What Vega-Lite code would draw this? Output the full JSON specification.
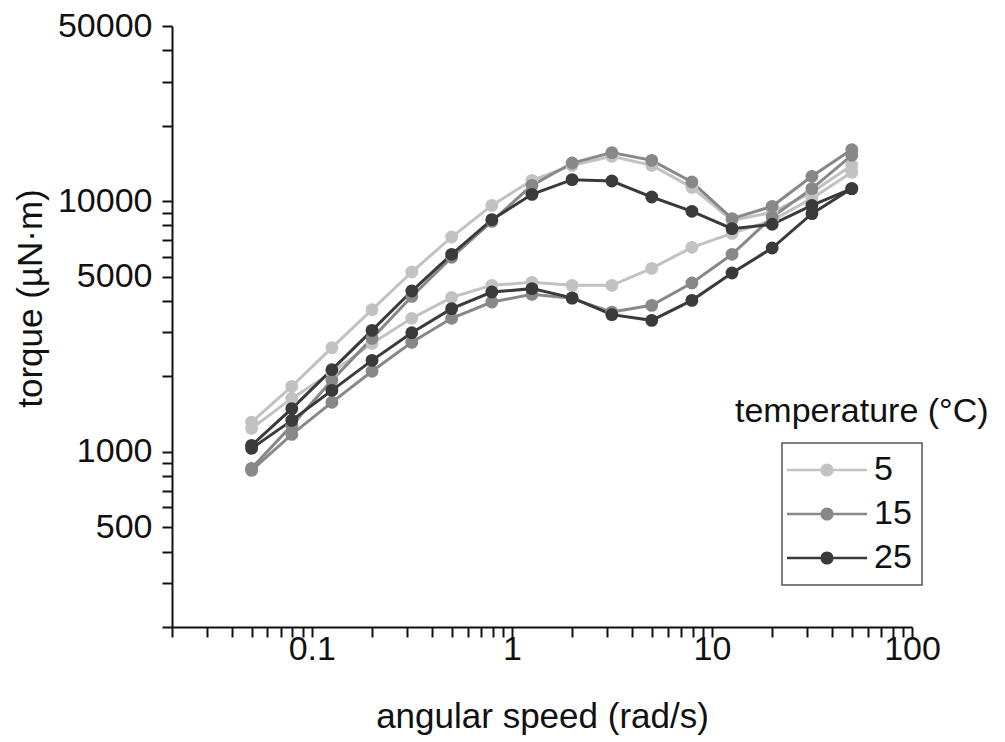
{
"$schema": "https://vega.github.io/schema/vega-lite/v6.json",
"width": 740, "height": 601,
"autosize": {"type": "none"},
"padding": {"left": 172, "top": 26, "right": 93, "bottom": 115},
"background": "white",
"config": {"view": {"stroke": null}, "font": "Liberation Sans"},
"title": {"text": "temperature (°C)", "orient": "top", "anchor": "start", "frame": "group", "dx": 563, "dy": 447, "baseline": "alphabetic", "offset": 0, "fontSize": 34, "fontWeight": "normal", "font": "Liberation Sans", "color": "#111111"},
"data": {"values": [
{"w":0.05,"T":5,"b":"a","v":1314},{"w":0.0794,"T":5,"b":"a","v":1825},{"w":0.126,"T":5,"b":"a","v":2604},{"w":0.2,"T":5,"b":"a","v":3692},{"w":0.316,"T":5,"b":"a","v":5217},{"w":0.5,"T":5,"b":"a","v":7193},{"w":0.794,"T":5,"b":"a","v":9624},{"w":1.26,"T":5,"b":"a","v":12111},{"w":2,"T":5,"b":"a","v":13900},{"w":3.16,"T":5,"b":"a","v":15099},{"w":5,"T":5,"b":"a","v":13900},{"w":7.94,"T":5,"b":"a","v":11356},{"w":12.6,"T":5,"b":"a","v":8386},{"w":20,"T":5,"b":"a","v":9028},{"w":31.6,"T":5,"b":"a","v":10847},{"w":50,"T":5,"b":"a","v":13900},
{"w":0.05,"T":5,"b":"b","v":1240},{"w":0.0794,"T":5,"b":"b","v":1634},{"w":0.126,"T":5,"b":"b","v":2075},{"w":0.2,"T":5,"b":"b","v":2709},{"w":0.316,"T":5,"b":"b","v":3409},{"w":0.5,"T":5,"b":"b","v":4134},{"w":0.794,"T":5,"b":"b","v":4615},{"w":1.26,"T":5,"b":"b","v":4745},{"w":2,"T":5,"b":"b","v":4615},{"w":3.16,"T":5,"b":"b","v":4615},{"w":5,"T":5,"b":"b","v":5395},{"w":7.94,"T":5,"b":"b","v":6545},{"w":12.6,"T":5,"b":"b","v":7442},{"w":20,"T":5,"b":"b","v":8386},{"w":31.6,"T":5,"b":"b","v":10264},{"w":50,"T":5,"b":"b","v":13032},
{"w":0.05,"T":15,"b":"a","v":859},{"w":0.0794,"T":15,"b":"a","v":1275},{"w":0.126,"T":15,"b":"a","v":1928},{"w":0.2,"T":15,"b":"a","v":2835},{"w":0.316,"T":15,"b":"a","v":4168},{"w":0.5,"T":15,"b":"a","v":5970},{"w":0.794,"T":15,"b":"a","v":8310},{"w":1.26,"T":15,"b":"a","v":11568},{"w":2,"T":15,"b":"a","v":14196},{"w":3.16,"T":15,"b":"a","v":15623},{"w":5,"T":15,"b":"a","v":14553},{"w":7.94,"T":15,"b":"a","v":11924},{"w":12.6,"T":15,"b":"a","v":8519},{"w":20,"T":15,"b":"a","v":9539},{"w":31.6,"T":15,"b":"a","v":12566},{"w":50,"T":15,"b":"a","v":16061},
{"w":0.05,"T":15,"b":"b","v":843},{"w":0.0794,"T":15,"b":"b","v":1173},{"w":0.126,"T":15,"b":"b","v":1576},{"w":0.2,"T":15,"b":"b","v":2095},{"w":0.316,"T":15,"b":"b","v":2734},{"w":0.5,"T":15,"b":"b","v":3409},{"w":0.794,"T":15,"b":"b","v":3959},{"w":1.26,"T":15,"b":"b","v":4249},{"w":2,"T":15,"b":"b","v":4095},{"w":3.16,"T":15,"b":"b","v":3611},{"w":5,"T":15,"b":"b","v":3841},{"w":7.94,"T":15,"b":"b","v":4714},{"w":12.6,"T":15,"b":"b","v":6137},{"w":20,"T":15,"b":"b","v":8647},{"w":31.6,"T":15,"b":"b","v":11226},{"w":50,"T":15,"b":"b","v":15240},
{"w":0.05,"T":25,"b":"a","v":1061},{"w":0.0794,"T":25,"b":"a","v":1487},{"w":0.126,"T":25,"b":"a","v":2127},{"w":0.2,"T":25,"b":"a","v":3052},{"w":0.316,"T":25,"b":"a","v":4380},{"w":0.5,"T":25,"b":"a","v":6137},{"w":0.794,"T":25,"b":"a","v":8441},{"w":1.26,"T":25,"b":"a","v":10648},{"w":2,"T":25,"b":"a","v":12188},{"w":3.16,"T":25,"b":"a","v":12034},{"w":5,"T":25,"b":"a","v":10389},{"w":7.94,"T":25,"b":"a","v":9111},{"w":12.6,"T":25,"b":"a","v":7771},{"w":20,"T":25,"b":"a","v":8087},{"w":31.6,"T":25,"b":"a","v":9624},{"w":50,"T":25,"b":"a","v":11226},
{"w":0.05,"T":25,"b":"b","v":1032},{"w":0.0794,"T":25,"b":"b","v":1335},{"w":0.126,"T":25,"b":"b","v":1758},{"w":0.2,"T":25,"b":"b","v":2317},{"w":0.316,"T":25,"b":"b","v":2988},{"w":0.5,"T":25,"b":"b","v":3726},{"w":0.794,"T":25,"b":"b","v":4340},{"w":1.26,"T":25,"b":"b","v":4478},{"w":2,"T":25,"b":"b","v":4115},{"w":3.16,"T":25,"b":"b","v":3527},{"w":5,"T":25,"b":"b","v":3346},{"w":7.94,"T":25,"b":"b","v":4021},{"w":12.6,"T":25,"b":"b","v":5168},{"w":20,"T":25,"b":"b","v":6503},{"w":31.6,"T":25,"b":"b","v":8918},{"w":50,"T":25,"b":"b","v":11226}
]},
"encoding": {
  "x": {"field": "w", "type": "quantitative",
    "scale": {"type": "log", "domain": [0.02, 100], "nice": false, "zero": false},
    "axis": {"title": "angular speed (rad/s)", "grid": false,
      "values": [0.02,0.03,0.04,0.05,0.06,0.07,0.08,0.09,0.1,0.2,0.3,0.4,0.5,0.6,0.7,0.8,0.9,1,2,3,4,5,6,7,8,9,10,20,30,40,50,60,70,80,90,100],
      "format": "~g",
      "labelExpr": "indexof([0.1,1,10,100], datum.value) >= 0 ? datum.label : ''",
      "labelOverlap": false, "labelFlush": false, "labelFontSize": 34, "labelColor": "#111111", "labelPadding": -5,
      "tickSize": 10, "tickWidth": 2, "tickColor": "#111111", "domainColor": "#111111", "domainWidth": 2,
      "titleFontSize": 35, "titleFontWeight": "normal", "titleColor": "#111111", "titleY": 72,
      "encode": {"ticks": {"update": {"y2": {"signal": "indexof([0.1,1,10,100], datum.value) >= 0 ? 10 : 6"}}}}
    }},
  "y": {"field": "v", "type": "quantitative",
    "scale": {"type": "log", "domain": [200, 50000], "nice": false, "zero": false},
    "axis": {"title": "torque (µN·m)", "grid": false,
      "values": [200,300,400,500,600,700,800,900,1000,2000,3000,4000,5000,6000,7000,8000,9000,10000,20000,30000,40000,50000],
      "format": "~g",
      "labelExpr": "indexof([500,1000,5000,10000,50000], datum.value) >= 0 ? datum.label : ''",
      "labelOverlap": false, "labelFlush": false, "labelFontSize": 34, "labelColor": "#111111", "labelPadding": 10,
      "tickSize": 10, "tickWidth": 2, "tickColor": "#111111", "domainColor": "#111111", "domainWidth": 2,
      "titleFontSize": 35, "titleFontWeight": "normal", "titleColor": "#111111", "titleX": -124, "titleY": 272,
      "encode": {"ticks": {"update": {"x2": {"signal": "indexof([1000,10000,50000], datum.value) >= 0 ? -10 : -6"}}}}
    }},
  "color": {"field": "T", "type": "ordinal",
    "scale": {"domain": [5, 15, 25], "range": ["#c2c2c2", "#888888", "#3a3a3a"]},
    "legend": {"orient": "none", "legendX": 610, "legendY": 417, "title": null, "direction": "vertical",
      "padding": 10, "strokeColor": "#555555", "rowPadding": 10,
      "symbolType": "M-6,0H6M-0.8,0A0.8,0.8,0,1,0,0.8,0A0.8,0.8,0,1,0,-0.8,0Z",
      "symbolSize": 178, "symbolStrokeWidth": 2.5, "symbolOffset": 18,
      "labelFontSize": 34, "labelFont": "Liberation Sans", "labelColor": "#111111", "labelOffset": 30,
      "encode": {"symbols": {"update": {"fill": {"scale": "color", "field": "value"}, "stroke": {"scale": "color", "field": "value"}, "opacity": {"value": 1}, "fillOpacity": {"value": 1}}},
                 "legend": {"update": {"strokeWidth": {"value": 1.5}}}}
    }}
},
"layer": [
  {"mark": {"type": "line", "strokeWidth": 3}, "encoding": {"detail": {"field": "b"}}},
  {"mark": {"type": "circle", "size": 165, "opacity": 1}}
]
}
